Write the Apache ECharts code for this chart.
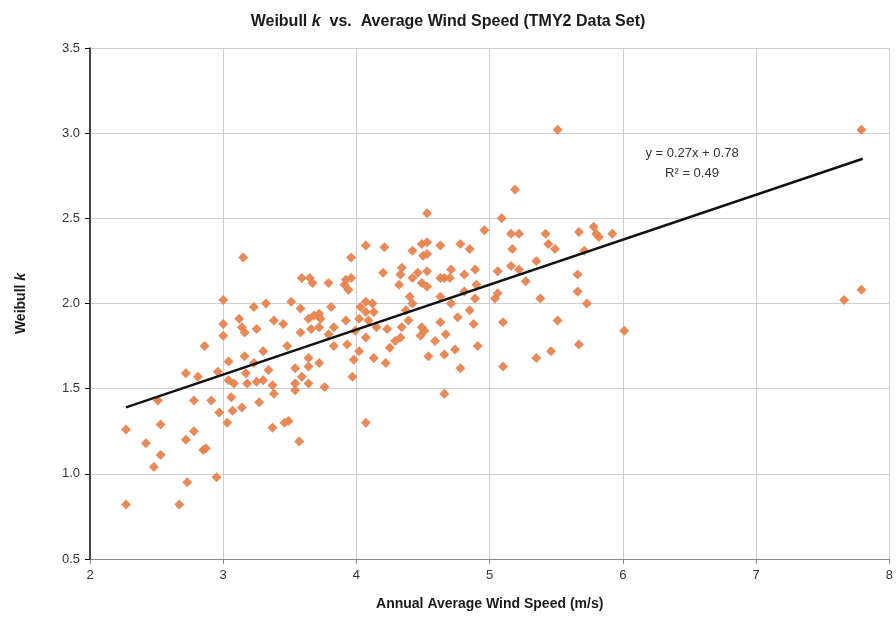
<!DOCTYPE html>
<html>
<head>
<meta charset="utf-8">
<script src="https://cdn.jsdelivr.net/npm/echarts@6/dist/echarts.min.js"></script>
<style>
  html, body { margin: 0; padding: 0; background: #fff; }
  #chart { width: 896px; height: 627px; }
</style>
</head>
<body>
<div id="chart"></div>
<script>
// annual average wind speed (m/s) per station
const windSpeed = [
  3.15, 3.00, 3.23, 3.32, 3.51, 3.58, 3.59, 3.12, 3.38, 3.45, 3.00, 3.14, 3.16, 3.25, 3.00, 2.86,
  3.58, 3.48, 3.30, 3.16, 3.04, 2.96, 2.72, 2.81, 3.04, 3.08, 3.18, 3.25, 3.30, 3.34, 3.17, 3.23,
  3.37, 3.38, 3.54, 3.54, 3.54, 3.64, 3.59, 2.51, 2.78, 2.91, 3.06, 2.97, 3.07, 3.14, 3.27, 3.03,
  3.37, 3.46, 3.49, 3.57, 2.27, 2.53, 2.78, 2.42, 2.72, 2.53, 2.85, 2.87, 2.48, 2.95, 2.73, 2.27,
  2.67,
  4.07, 4.21, 3.96, 4.42, 4.49, 4.50, 3.65, 3.67, 3.79, 3.92, 3.96, 3.91, 3.94, 4.20, 4.34, 4.33,
  4.42, 4.32, 4.46, 4.49, 4.40, 4.42, 4.37, 4.07, 4.12, 4.03, 4.13, 4.07, 3.81, 3.72, 3.68, 3.64,
  3.73, 3.66, 3.72, 3.83, 3.92, 4.02, 4.09, 3.99, 4.15, 4.23, 4.34, 4.39, 4.49, 3.79, 4.33, 4.48,
  3.83, 3.93, 4.02, 3.98, 3.64, 3.64, 3.72, 3.97, 3.76, 4.07, 4.13, 4.22, 4.25, 4.29, 4.07,
  5.19, 5.09, 4.96, 5.16, 5.22, 5.17, 4.53, 4.53, 4.53, 4.63, 4.78, 4.85, 4.53, 4.53, 4.63, 4.66,
  4.71, 4.70, 4.81, 4.89, 4.90, 5.06, 5.16, 5.22, 5.27, 5.35, 4.63, 4.71, 4.81, 4.89, 5.06, 5.04,
  4.85, 4.76,
  4.63, 4.88, 4.67, 4.59, 4.51, 4.74, 4.66, 4.54, 4.91, 4.78, 4.66, 5.10, 5.10, 5.35,
  5.51, 5.42, 5.44, 5.49, 5.67, 5.78, 5.80, 5.82, 5.92, 5.71,
  5.66, 5.66, 5.38, 5.73, 5.51, 6.01, 5.67, 5.46,
  7.79, 7.79, 7.66
];
// Weibull shape factor k per station
const weibullK = [
  2.27, 2.02, 1.98, 2.00, 2.01, 1.97, 2.15, 1.91, 1.90, 1.88, 1.88, 1.86, 1.83, 1.85, 1.81, 1.75,
  1.83, 1.75, 1.72, 1.69, 1.66, 1.60, 1.59, 1.57, 1.55, 1.53, 1.53, 1.54, 1.55, 1.61, 1.59, 1.65,
  1.52, 1.47, 1.62, 1.53, 1.49, 1.53, 1.57, 1.43, 1.43, 1.43, 1.45, 1.36, 1.37, 1.39, 1.42, 1.30,
  1.27, 1.30, 1.31, 1.19, 1.26, 1.29, 1.25, 1.18, 1.20, 1.11, 1.14, 1.15, 1.04, 0.98, 0.95, 0.82,
  0.82,
  2.34, 2.33, 2.27, 2.31, 2.35, 2.28, 2.15, 2.12, 2.12, 2.14, 2.15, 2.11, 2.08, 2.18, 2.21, 2.17,
  2.15, 2.11, 2.18, 2.12, 2.04, 2.00, 1.96, 2.01, 2.00, 1.98, 1.95, 1.95, 1.98, 1.94, 1.93, 1.91,
  1.91, 1.85, 1.86, 1.86, 1.90, 1.91, 1.90, 1.84, 1.86, 1.85, 1.86, 1.90, 1.86, 1.82, 1.80, 1.81,
  1.75, 1.76, 1.72, 1.67, 1.68, 1.63, 1.65, 1.57, 1.51, 1.30, 1.68, 1.65, 1.74, 1.78, 1.80,
  2.67, 2.50, 2.43, 2.41, 2.41, 2.32, 2.53, 2.36, 2.29, 2.34, 2.35, 2.32, 2.19, 2.10, 2.15, 2.15,
  2.20, 2.15, 2.17, 2.20, 2.11, 2.19, 2.22, 2.20, 2.13, 2.25, 2.04, 2.00, 2.07, 2.03, 2.06, 2.03,
  1.96, 1.92,
  1.89, 1.88, 1.82, 1.78, 1.84, 1.73, 1.70, 1.69, 1.75, 1.62, 1.47, 1.89, 1.63, 1.68,
  3.02, 2.41, 2.35, 2.32, 2.42, 2.45, 2.41, 2.39, 2.41, 2.31,
  2.17, 2.07, 2.03, 2.00, 1.90, 1.84, 1.76, 1.72,
  3.02, 2.08, 2.02
];
// linear trend line end points (y = 0.27x + 0.78)
const trendX = [2.27, 7.80];
const trendY = [1.39, 2.85];
const trendLabel = ['y = 0.27x + 0.78', 'R\u00b2 = 0.49'];

const xTicks = [2, 8, 1];
const yTicks = [0.5, 3.5, 0.5];

const chart = echarts.init(document.getElementById('chart'));

const points = windSpeed.map((v, i) => [v, weibullK[i]]);
const trend = trendX.map((v, i) => [v, trendY[i]]);

const font = '"Liberation Sans", Arial, sans-serif';

const option = {
  animation: false,
  backgroundColor: '#fff',
  textStyle: { fontFamily: font },
  title: {
    text: '{b|Weibull }{i|k}{b|  vs.  Average Wind Speed (TMY2 Data Set)}',
    left: 'center',
    top: 9,
    textStyle: {
      rich: {
        b: { fontSize: 16, fontWeight: 'bold', color: '#1a1a1a', fontFamily: font },
        i: { fontSize: 16, fontWeight: 'bold', fontStyle: 'italic', color: '#1a1a1a', fontFamily: font }
      }
    }
  },
  grid: { left: 90, right: 5, top: 48, bottom: 68 },
  xAxis: {
    type: 'value',
    min: xTicks[0],
    max: xTicks[1],
    interval: xTicks[2],
    name: 'Annual Average Wind Speed (m/s)',
    nameLocation: 'middle',
    nameGap: 38,
    nameTextStyle: { fontSize: 14, fontWeight: 'bold', color: '#1a1a1a', fontFamily: font },
    axisLine: { lineStyle: { color: '#8c8c8c', width: 1 } },
    axisTick: { show: true, length: 5, lineStyle: { color: '#8c8c8c' } },
    axisLabel: { fontSize: 13, color: '#333', margin: 10 },
    splitLine: { show: true, lineStyle: { color: '#cfcfcf', width: 1 } }
  },
  yAxis: {
    type: 'value',
    min: yTicks[0],
    max: yTicks[1],
    interval: yTicks[2],
    name: '{b|Weibull }{i|k}',
    nameLocation: 'middle',
    nameGap: 62,
    nameRotate: 90,
    nameTextStyle: {
      rich: {
        b: { fontSize: 14, fontWeight: 'bold', color: '#1a1a1a', fontFamily: font },
        i: { fontSize: 14, fontWeight: 'bold', fontStyle: 'italic', color: '#1a1a1a', fontFamily: font }
      }
    },
    axisLine: { show: true, lineStyle: { color: '#111', width: 1.5 } },
    axisTick: { show: true, length: 5, lineStyle: { color: '#111' } },
    axisLabel: { fontSize: 13, color: '#333', margin: 10, formatter: (v) => v.toFixed(1) },
    splitLine: { show: true, lineStyle: { color: '#cfcfcf', width: 1 } }
  },
  graphic: [
    {
      type: 'text',
      x: 692,
      y: 153,
      style: { text: trendLabel[0], font: '13px ' + font, fill: '#333', align: 'center', verticalAlign: 'middle' }
    },
    {
      type: 'text',
      x: 692,
      y: 173,
      style: { text: trendLabel[1], font: '13px ' + font, fill: '#333', align: 'center', verticalAlign: 'middle' }
    }
  ],
  series: [
    {
      name: 'stations',
      type: 'scatter',
      symbol: 'diamond',
      symbolSize: 10,
      data: points,
      itemStyle: { color: '#E8834E', opacity: 0.95 }
    },
    {
      name: 'trend',
      type: 'line',
      data: trend,
      showSymbol: false,
      lineStyle: { color: '#111', width: 2.5 },
      z: 3
    }
  ]
};

chart.setOption(option);
</script>
</body>
</html>
